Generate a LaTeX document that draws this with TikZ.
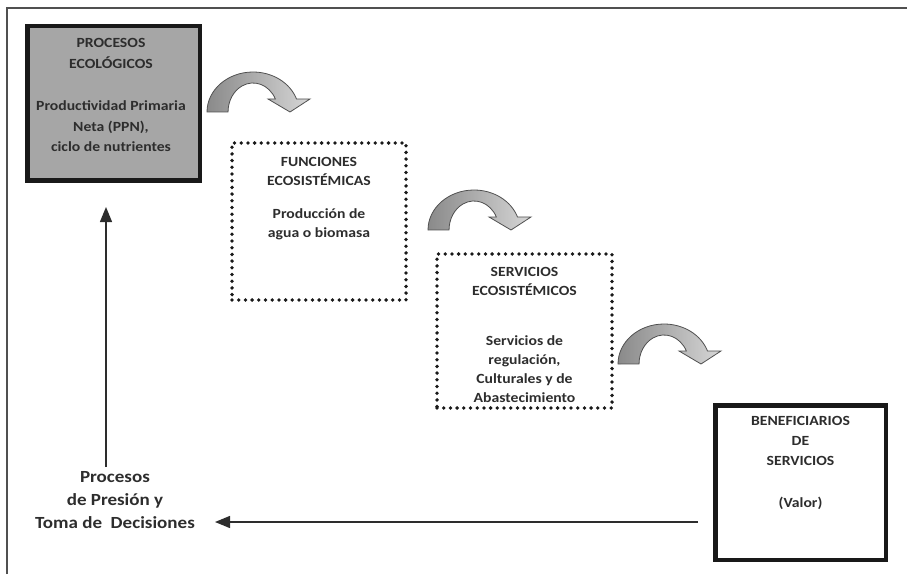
\documentclass[tikz,border=0pt]{standalone}
\usepackage{fontspec}
\setmainfont{Carlito}[FakeStretch=1.12]
\usetikzlibrary{arrows.meta}

\definecolor{boxgray}{RGB}{166,166,166}
\definecolor{txtgray}{RGB}{45,45,45}
\definecolor{arrowdark}{RGB}{138,138,138}
\definecolor{arrowlight}{RGB}{214,214,214}
\definecolor{arrowedge}{RGB}{80,80,80}
\definecolor{framegray}{RGB}{80,80,80}

\tikzset{
	solidbox/.style={draw=black!90, line width=4.5pt, inner sep=0pt},
	dotbox/.style={draw=black!90, line width=3.8pt, dash pattern=on 0pt off 6.7pt, line cap=round, inner sep=0pt},
	boxtext/.style={text=txtgray, align=center, inner sep=0pt},
	flowline/.style={draw=txtgray, line width=1.3pt, -{Triangle[length=15pt,width=12pt]}},
}

\begin{document}
\begin{tikzpicture}[x=1pt,y=1pt]
		\useasboundingbox (0,0) rectangle (907,574);
		\draw [framegray, line width=2pt] (7,0) -- (7,565.5) -- (907,565.5);

		\node [solidbox, fill=boxgray, minimum width=172.5, minimum height=154.5] (procesos) at (113.5,470.5) {};
		\node [dotbox, minimum width=174, minimum height=157] (funciones) at (319,352.5) {};
		\node [dotbox, minimum width=175, minimum height=154] (servicios) at (524.5,243) {};
		\node [solidbox, fill=white, minimum width=170.5, minimum height=154.5] (beneficiarios) at (800.5,91.5) {};

		\node [boxtext, font=\bfseries\fontsize{14}{20.5}\selectfont] (procesostxt) at (111,479)
			{PROCESOS\\ECOLÓGICOS\\[22pt]Productividad Primaria\\Neta (PPN),\\ ciclo de nutrientes};
		\node [boxtext, font=\bfseries\fontsize{14}{19}\selectfont] (funcionestxt) at (319,375.5)
			{FUNCIONES\\ECOSISTÉMICAS\\[14pt]Producción de\\agua o biomasa};
		\node [boxtext, font=\bfseries\fontsize{14}{19}\selectfont] (serviciostxt) at (524.5,239)
			{SERVICIOS\\ECOSISTÉMICOS\\[31pt]Servicios de\\regulación,\\Culturales y de\\Abastecimiento};
		\node [boxtext, font=\bfseries\fontsize{14}{20}\selectfont] (beneficiariostxt) at (800.5,111)
			{BENEFICIARIOS\\DE\\SERVICIOS\\[22pt](Valor)};
		\node [boxtext, font=\bfseries\fontsize{17}{23}\selectfont] (presion) at (115,74)
			{Procesos\\de Presión y\\Toma de\ \ Decisiones};

		\foreach \px/\py in {207/462, 428/344, 618/210}
			\shadedraw [arrowedge, line width=0.8pt, left color=arrowdark, right color=arrowlight, shift={(\px,\py)}]
				(0,0) arc [start angle=180, end angle=19, x radius=46, y radius=40]
				-- (103,13) -- (83,0) -- (61,13)
				-- (68.4,13) arc [start angle=26.6, end angle=180, x radius=25, y radius=29] -- cycle;

		\coordinate (presiontop) at (106,107);
		\coordinate (procesosbelow) at (106,367);
		\coordinate (beneficiariosleft) at (698,52);
		\coordinate (presionright) at (215,52);
		\draw [flowline] (presiontop) -- (procesosbelow);
		\draw [flowline] (beneficiariosleft) -- (presionright);
	\end{tikzpicture}
\end{document}
